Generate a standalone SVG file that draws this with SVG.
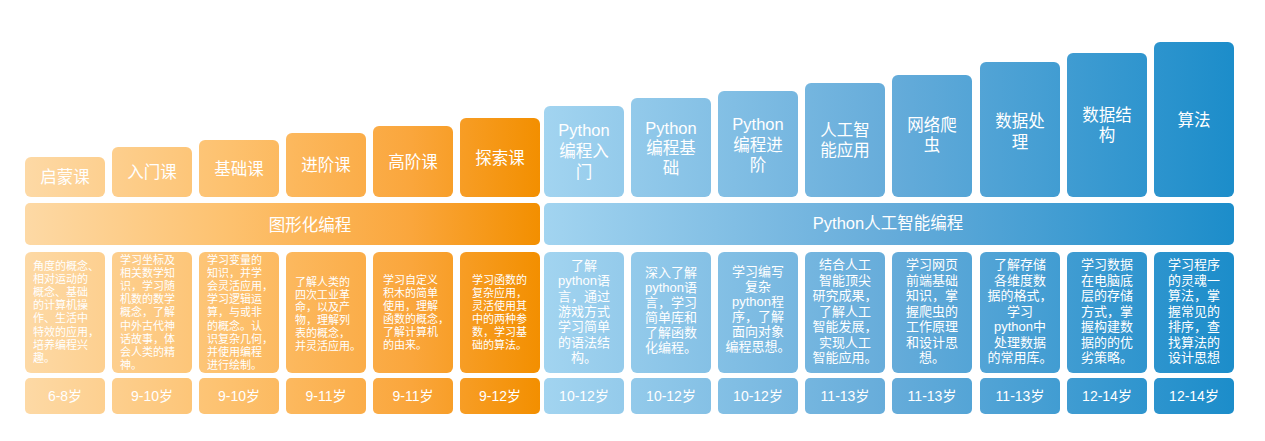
<svg xmlns="http://www.w3.org/2000/svg" width="1265" height="441" viewBox="0 0 1265 441">
<defs>
<linearGradient id="og" gradientUnits="userSpaceOnUse" x1="25" y1="0" x2="540" y2="0">
<stop offset="0" stop-color="#fdd9a5"/>
<stop offset="0.4" stop-color="#fdc16e"/>
<stop offset="0.75" stop-color="#faa63c"/>
<stop offset="1" stop-color="#f38f00"/>
</linearGradient>
<linearGradient id="bg" gradientUnits="userSpaceOnUse" x1="544" y1="0" x2="1234" y2="0">
<stop offset="0" stop-color="#a2d4f0"/>
<stop offset="0.5" stop-color="#66acda"/>
<stop offset="1" stop-color="#1c8dca"/>
</linearGradient>
<style>
.o{fill:url(#og)}
.b{fill:url(#bg)}
text{fill:#fff;font-family:"Liberation Sans","Noto Sans CJK SC",sans-serif}
.ht{font-size:16.5px;text-anchor:middle}
.od{font-size:11px}
.bd{font-size:13px;text-anchor:middle}
.age{font-size:14px;text-anchor:middle}
</style>
</defs>
<rect width="1265" height="441" fill="#fff"/>

<g id="band-graphical">
<rect class="o" x="25" y="203" width="515" height="42" rx="5"/>
<text class="ht" x="310" y="231">图形化编程</text>
</g>
<g id="band-python">
<rect class="b" x="544" y="203" width="690" height="42" rx="5"/>
<text class="ht" x="888" y="229">Python人工智能编程</text>
</g>

<g id="col0">
<rect class="o" x="25" y="157" width="80" height="40" rx="6"/>
<text class="ht" x="65" y="183">启蒙课</text>
<rect class="o" x="25" y="252" width="80" height="121" rx="6"/>
<text class="od" x="33" y="270"><tspan x="33">角度的概念、</tspan><tspan x="33" dy="13.1">相对运动的</tspan><tspan x="33" dy="13.1">概念、基础</tspan><tspan x="33" dy="13.1">的计算机操</tspan><tspan x="33" dy="13.1">作、生活中</tspan><tspan x="33" dy="13.1">特效的应用，</tspan><tspan x="33" dy="13.1">培养编程兴</tspan><tspan x="33" dy="13.1">趣。</tspan></text>
<rect class="o" x="25" y="378" width="80" height="36" rx="5"/>
<text class="age" x="65" y="401">6-8岁</text>
</g>

<g id="col1">
<rect class="o" x="112" y="147" width="80" height="50" rx="6"/>
<text class="ht" x="152" y="178">入门课</text>
<rect class="o" x="112" y="252" width="80" height="121" rx="6"/>
<text class="od" x="120" y="264"><tspan x="120">学习坐标及</tspan><tspan x="120" dy="13.1">相关数学知</tspan><tspan x="120" dy="13.1">识，学习随</tspan><tspan x="120" dy="13.1">机数的数学</tspan><tspan x="120" dy="13.1">概念，了解</tspan><tspan x="120" dy="13.1">中外古代神</tspan><tspan x="120" dy="13.1">话故事，体</tspan><tspan x="120" dy="13.1">会人类的精</tspan><tspan x="120" dy="13.1">神。</tspan></text>
<rect class="o" x="112" y="378" width="80" height="36" rx="5"/>
<text class="age" x="152" y="401">9-10岁</text>
</g>

<g id="col2">
<rect class="o" x="199" y="140" width="80" height="57" rx="6"/>
<text class="ht" x="239" y="174.5">基础课</text>
<rect class="o" x="199" y="252" width="80" height="121" rx="6"/>
<text class="od" x="207" y="264"><tspan x="207">学习变量的</tspan><tspan x="207" dy="13.1">知识，并学</tspan><tspan x="207" dy="13.1">会灵活应用，</tspan><tspan x="207" dy="13.1">学习逻辑运</tspan><tspan x="207" dy="13.1">算，与或非</tspan><tspan x="207" dy="13.1">的概念。认</tspan><tspan x="207" dy="13.1">识复杂几何，</tspan><tspan x="207" dy="13.1">并使用编程</tspan><tspan x="207" dy="13.1">进行绘制。</tspan></text>
<rect class="o" x="199" y="378" width="80" height="36" rx="5"/>
<text class="age" x="239" y="401">9-10岁</text>
</g>

<g id="col3">
<rect class="o" x="286" y="133" width="80" height="64" rx="6"/>
<text class="ht" x="326" y="171">进阶课</text>
<rect class="o" x="286" y="252" width="80" height="121" rx="6"/>
<text class="od" x="295" y="286"><tspan x="295">了解人类的</tspan><tspan x="295" dy="12.7">四次工业革</tspan><tspan x="295" dy="12.7">命，以及产</tspan><tspan x="295" dy="12.7">物，理解列</tspan><tspan x="295" dy="12.7">表的概念，</tspan><tspan x="295" dy="12.7">并灵活应用。</tspan></text>
<rect class="o" x="286" y="378" width="80" height="36" rx="5"/>
<text class="age" x="326" y="401">9-11岁</text>
</g>

<g id="col4">
<rect class="o" x="373" y="126" width="80" height="71" rx="6"/>
<text class="ht" x="413" y="167.5">高阶课</text>
<rect class="o" x="373" y="252" width="80" height="121" rx="6"/>
<text class="od" x="383" y="284"><tspan x="383">学习自定义</tspan><tspan x="383" dy="13">积木的简单</tspan><tspan x="383" dy="13">使用，理解</tspan><tspan x="383" dy="13">函数的概念，</tspan><tspan x="383" dy="13">了解计算机</tspan><tspan x="383" dy="13">的由来。</tspan></text>
<rect class="o" x="373" y="378" width="80" height="36" rx="5"/>
<text class="age" x="413" y="401">9-11岁</text>
</g>

<g id="col5">
<rect class="o" x="460" y="118" width="80" height="79" rx="6"/>
<text class="ht" x="500" y="163.5">探索课</text>
<rect class="o" x="460" y="252" width="80" height="121" rx="6"/>
<text class="od" x="472" y="284"><tspan x="472">学习函数的</tspan><tspan x="472" dy="13">复杂应用，</tspan><tspan x="472" dy="13">灵活使用其</tspan><tspan x="472" dy="13">中的两种参</tspan><tspan x="472" dy="13">数，学习基</tspan><tspan x="472" dy="13">础的算法。</tspan></text>
<rect class="o" x="460" y="378" width="80" height="36" rx="5"/>
<text class="age" x="500" y="401">9-12岁</text>
</g>

<g id="col6">
<rect class="b" x="544" y="106" width="80" height="91" rx="6"/>
<text class="ht" x="584" y="136"><tspan x="584">Python</tspan><tspan x="584" dy="21">编程入</tspan><tspan x="584" dy="21">门</tspan></text>
<rect class="b" x="544" y="252" width="80" height="121" rx="6"/>
<text class="bd" x="584" y="270"><tspan x="584">了解</tspan><tspan x="584" dy="15.3">python语</tspan><tspan x="584" dy="15.3">言，通过</tspan><tspan x="584" dy="15.3">游戏方式</tspan><tspan x="584" dy="15.3">学习简单</tspan><tspan x="584" dy="15.3">的语法结</tspan><tspan x="584" dy="15.3">构。</tspan></text>
<rect class="b" x="544" y="378" width="80" height="36" rx="5"/>
<text class="age" x="584" y="401">10-12岁</text>
</g>

<g id="col7">
<rect class="b" x="631" y="98" width="80" height="99" rx="6"/>
<text class="ht" x="671" y="134"><tspan x="671">Python</tspan><tspan x="671" dy="20">编程基</tspan><tspan x="671" dy="20">础</tspan></text>
<rect class="b" x="631" y="252" width="80" height="121" rx="6"/>
<text class="bd" x="671" y="277"><tspan x="671">深入了解</tspan><tspan x="671" dy="15">python语</tspan><tspan x="671" dy="15">言，学习</tspan><tspan x="671" dy="15">简单库和</tspan><tspan x="671" dy="15">了解函数</tspan><tspan x="671" dy="15">化编程。</tspan></text>
<rect class="b" x="631" y="378" width="80" height="36" rx="5"/>
<text class="age" x="671" y="401">10-12岁</text>
</g>

<g id="col8">
<rect class="b" x="718" y="91" width="80" height="106" rx="6"/>
<text class="ht" x="758" y="130"><tspan x="758">Python</tspan><tspan x="758" dy="20.5">编程进</tspan><tspan x="758" dy="20.5">阶</tspan></text>
<rect class="b" x="718" y="252" width="80" height="121" rx="6"/>
<text class="bd" x="758" y="276"><tspan x="758">学习编写</tspan><tspan x="758" dy="15">复杂</tspan><tspan x="758" dy="15">python程</tspan><tspan x="758" dy="15">序，了解</tspan><tspan x="758" dy="15">面向对象</tspan><tspan x="758" dy="15">编程思想。</tspan></text>
<rect class="b" x="718" y="378" width="80" height="36" rx="5"/>
<text class="age" x="758" y="401">10-12岁</text>
</g>

<g id="col9">
<rect class="b" x="805" y="83" width="80" height="114" rx="6"/>
<text class="ht" x="845" y="136"><tspan x="845">人工智</tspan><tspan x="845" dy="20">能应用</tspan></text>
<rect class="b" x="805" y="252" width="80" height="121" rx="6"/>
<text class="bd" x="845" y="269"><tspan x="845">结合人工</tspan><tspan x="845" dy="15.5">智能顶尖</tspan><tspan x="845" dy="15.5">研究成果，</tspan><tspan x="845" dy="15.5">了解人工</tspan><tspan x="845" dy="15.5">智能发展，</tspan><tspan x="845" dy="15.5">实现人工</tspan><tspan x="845" dy="15.5">智能应用。</tspan></text>
<rect class="b" x="805" y="378" width="80" height="36" rx="5"/>
<text class="age" x="845" y="401">11-13岁</text>
</g>

<g id="col10">
<rect class="b" x="892" y="75" width="80" height="122" rx="6"/>
<text class="ht" x="932" y="131"><tspan x="932">网络爬</tspan><tspan x="932" dy="20">虫</tspan></text>
<rect class="b" x="892" y="252" width="80" height="121" rx="6"/>
<text class="bd" x="932" y="269"><tspan x="932">学习网页</tspan><tspan x="932" dy="15.5">前端基础</tspan><tspan x="932" dy="15.5">知识，掌</tspan><tspan x="932" dy="15.5">握爬虫的</tspan><tspan x="932" dy="15.5">工作原理</tspan><tspan x="932" dy="15.5">和设计思</tspan><tspan x="932" dy="15.5">想。</tspan></text>
<rect class="b" x="892" y="378" width="80" height="36" rx="5"/>
<text class="age" x="932" y="401">11-13岁</text>
</g>

<g id="col11">
<rect class="b" x="980" y="62" width="80" height="135" rx="6"/>
<text class="ht" x="1020" y="127"><tspan x="1020">数据处</tspan><tspan x="1020" dy="20.5">理</tspan></text>
<rect class="b" x="980" y="252" width="80" height="121" rx="6"/>
<text class="bd" x="1020" y="269"><tspan x="1020">了解存储</tspan><tspan x="1020" dy="15.5">各维度数</tspan><tspan x="1020" dy="15.5">据的格式，</tspan><tspan x="1020" dy="15.5">学习</tspan><tspan x="1020" dy="15.5">python中</tspan><tspan x="1020" dy="15.5">处理数据</tspan><tspan x="1020" dy="15.5">的常用库。</tspan></text>
<rect class="b" x="980" y="378" width="80" height="36" rx="5"/>
<text class="age" x="1020" y="401">11-13岁</text>
</g>

<g id="col12">
<rect class="b" x="1067" y="53" width="80" height="144" rx="6"/>
<text class="ht" x="1107" y="121"><tspan x="1107">数据结</tspan><tspan x="1107" dy="20">构</tspan></text>
<rect class="b" x="1067" y="252" width="80" height="121" rx="6"/>
<text class="bd" x="1107" y="269"><tspan x="1107">学习数据</tspan><tspan x="1107" dy="15.5">在电脑底</tspan><tspan x="1107" dy="15.5">层的存储</tspan><tspan x="1107" dy="15.5">方式，掌</tspan><tspan x="1107" dy="15.5">握构建数</tspan><tspan x="1107" dy="15.5">据的的优</tspan><tspan x="1107" dy="15.5">劣策略。</tspan></text>
<rect class="b" x="1067" y="378" width="80" height="36" rx="5"/>
<text class="age" x="1107" y="401">12-14岁</text>
</g>

<g id="col13">
<rect class="b" x="1154" y="42" width="80" height="155" rx="6"/>
<text class="ht" x="1194" y="126">算法</text>
<rect class="b" x="1154" y="252" width="80" height="121" rx="6"/>
<text class="bd" x="1194" y="269"><tspan x="1194">学习程序</tspan><tspan x="1194" dy="15.5">的灵魂一</tspan><tspan x="1194" dy="15.5">算法，掌</tspan><tspan x="1194" dy="15.5">握常见的</tspan><tspan x="1194" dy="15.5">排序，查</tspan><tspan x="1194" dy="15.5">找算法的</tspan><tspan x="1194" dy="15.5">设计思想</tspan></text>
<rect class="b" x="1154" y="378" width="80" height="36" rx="5"/>
<text class="age" x="1194" y="401">12-14岁</text>
</g>
</svg>
